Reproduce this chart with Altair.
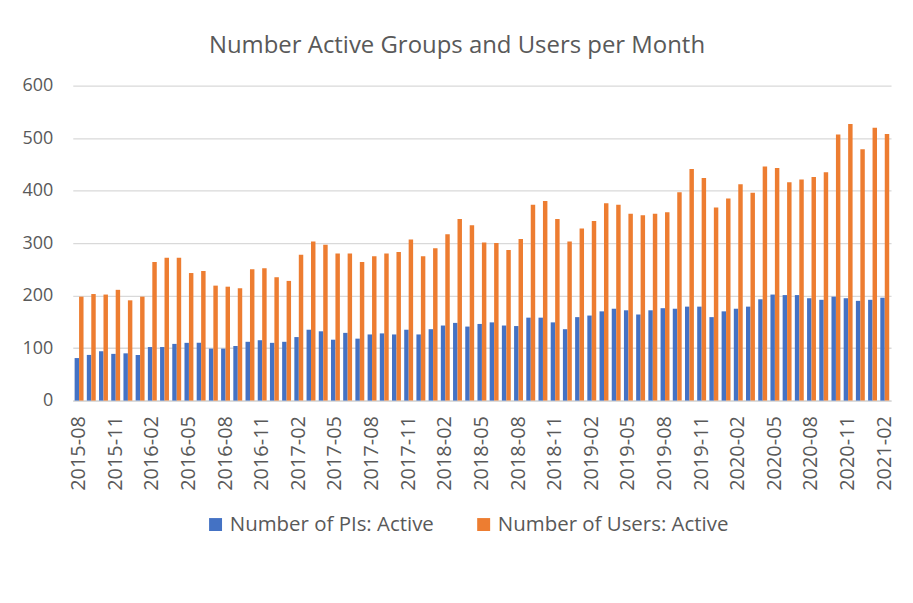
import altair as alt
import pandas as pd

# Categories: monthly, 2015-08 .. 2021-02
months = [str(p) for p in pd.period_range("2015-08", "2021-02", freq="M")]
tick_labels = months[::3]

series = ["Number of PIs: Active", "Number of Users: Active"]
colors = ["#4472C4", "#ED7D31"]

pis = [81, 87, 94, 89, 90, 87, 102, 102, 108, 110, 110, 99, 99, 104, 112, 115, 110, 112,
       121, 135, 132, 116, 129, 118, 126, 128, 126, 135, 126, 136, 143, 148, 141, 146, 149, 143,
       142, 158, 158, 149, 136, 159, 162, 170, 175, 172, 164, 172, 176, 175, 179, 179, 159, 170,
       175, 179, 193, 202, 201, 201, 195, 192, 198, 195, 190, 192, 196]

users = [198, 203, 202, 211, 191, 198, 264, 272, 272, 243, 247, 219, 217, 214, 250, 252, 235, 228,
         278, 303, 297, 280, 280, 264, 275, 280, 283, 307, 275, 290, 317, 346, 334, 301, 300, 287,
         308, 373, 380, 346, 303, 328, 342, 376, 373, 356, 353, 356, 359, 397, 441, 424, 368, 385,
         412, 396, 446, 443, 416, 421, 426, 435, 507, 527, 479, 520, 508]

y_ticks = [0, 100, 200, 300, 400, 500, 600]

df = pd.DataFrame({
    "month": months + months,
    "series": [series[0]] * len(months) + [series[1]] * len(months),
    "value": pis + users,
})

text_color = "#595959"
font = "Open Sans"

chart = alt.Chart(df).mark_bar().encode(
    x=alt.X(
        "month:N",
        sort=months,
        scale=alt.Scale(paddingInner=0.27, paddingOuter=0.15),
        axis=alt.Axis(
            values=tick_labels, title=None, labelAngle=270, labelFontSize=20,
            labelColor=text_color, labelFont=font, ticks=False,
            domainColor="#d9d9d9", domainWidth=1.5, labelPadding=15,
        ),
    ),
    xOffset=alt.XOffset("series:N", sort=series),
    y=alt.Y(
        "value:Q",
        scale=alt.Scale(domain=[0, 600]),
        axis=alt.Axis(
            values=y_ticks, title=None, domain=False, ticks=False, labelFontSize=18,
            labelColor=text_color, labelFont=font, labelPadding=20,
            gridColor="#d9d9d9", gridWidth=1.3,
        ),
    ),
    color=alt.Color(
        "series:N",
        sort=series,
        scale=alt.Scale(domain=series, range=colors),
        legend=alt.Legend(
            orient="none", legendX=133, legendY=430, direction="horizontal", title=None,
            symbolType="square", symbolSize=169, symbolStrokeWidth=0,
            labelFontSize=20.5, labelColor=text_color, labelFont=font, labelLimit=0,
            columnPadding=39, labelOffset=4,
        ),
    ),
).properties(
    width=821,
    height=316,
    title=alt.TitleParams(
        "Number Active Groups and Users per Month", fontSize=24, font=font,
        color=text_color, fontWeight="normal", offset=19, anchor="middle", dx=-25,
    ),
    padding={"left": 14, "top": 25, "right": 10, "bottom": 10},
).configure_view(stroke=None)

chart.save("out.html", embed_options={"renderer": "svg", "actions": False})
